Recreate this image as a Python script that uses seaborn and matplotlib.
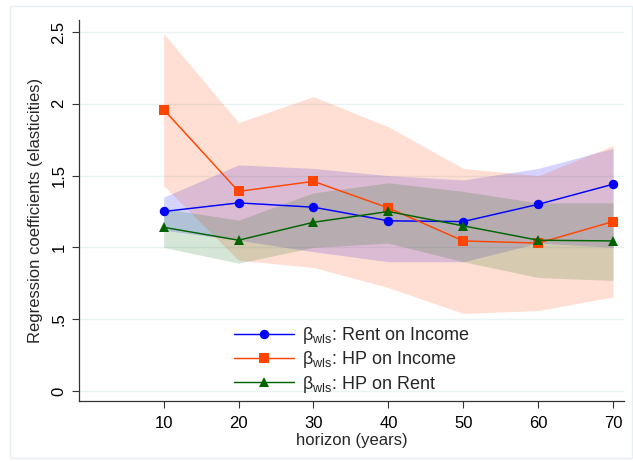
import numpy as np
import pandas as pd
import matplotlib
matplotlib.use("Agg")
import matplotlib.pyplot as plt
import seaborn as sns
from matplotlib.patches import Rectangle

# ---- data ----
horizon = [10, 20, 30, 40, 50, 60, 70]

rent_inc = [1.25, 1.31, 1.28, 1.185, 1.18, 1.30, 1.44]
rent_inc_hi = [1.35, 1.575, 1.55, 1.50, 1.47, 1.55, 1.69]
rent_inc_lo = [1.12, 1.05, 0.97, 0.90, 0.90, 1.03, 1.00]

hp_inc = [1.96, 1.39, 1.46, 1.275, 1.045, 1.03, 1.18]
hp_inc_hi = [2.49, 1.87, 2.05, 1.84, 1.55, 1.50, 1.71]
hp_inc_lo = [1.43, 0.91, 0.86, 0.72, 0.54, 0.56, 0.655]

hp_rent = [1.14, 1.05, 1.175, 1.25, 1.15, 1.05, 1.045]
hp_rent_hi = [1.27, 1.19, 1.38, 1.45, 1.39, 1.31, 1.31]
hp_rent_lo = [1.00, 0.89, 1.00, 1.03, 0.90, 0.79, 0.77]

labels = [r"β$_{\mathrm{wls}}$: Rent on Income",
          r"β$_{\mathrm{wls}}$: HP on Income",
          r"β$_{\mathrm{wls}}$: HP on Rent"]
yticks = [0, 0.5, 1, 1.5, 2, 2.5]
yticklabels = ["0", ".5", "1", "1.5", "2", "2.5"]
xticks = [10, 20, 30, 40, 50, 60, 70]

colors = ["#0000FF", "#FF4500", "#006400"]
markers = ["o", "s", "^"]

# ---- style ----
sns.set_style("white")
plt.rcParams["font.family"] = ["Liberation Sans", "DejaVu Sans"]
plt.rcParams["mathtext.fontset"] = "custom"
plt.rcParams["mathtext.rm"] = "Liberation Sans"
plt.rcParams["mathtext.it"] = "Liberation Sans:italic"

fig = plt.figure(figsize=(6.33, 4.61), dpi=100)
ax = fig.add_axes([79 / 633, 1 - 401 / 461, (624 - 79) / 633, (401 - 20) / 461])

# bands
bands = [(rent_inc_lo, rent_inc_hi), (hp_inc_lo, hp_inc_hi), (hp_rent_lo, hp_rent_hi)]
band_alpha = [0.17, 0.17, 0.16]
for (lo, hi), c, a in zip(bands, colors, band_alpha):
    ax.fill_between(horizon, lo, hi, color=c, alpha=a, linewidth=0, zorder=1)

# lines
df = pd.concat([
    pd.DataFrame({"horizon": horizon, "value": vals, "series": lab})
    for vals, lab in zip([rent_inc, hp_inc, hp_rent], labels)
])
sns.lineplot(data=df, x="horizon", y="value", hue="series", style="series",
             hue_order=labels, style_order=labels,
             palette=dict(zip(labels, colors)),
             markers=dict(zip(labels, markers)), dashes=False,
             markersize=6.8, markeredgewidth=0, linewidth=1.05, ax=ax, zorder=3)

# axes
ax.set_xlim(-1.3, 71.45)
ax.set_ylim(-(401 - 391) / 143.6, (391 - 20) / 143.6)
ax.set_xticks(xticks)
ax.set_yticks(yticks)
ax.set_yticklabels(yticklabels, rotation=90, va="center")
ax.tick_params(axis="both", direction="out", length=5, width=0.8, colors="#333333",
               labelcolor="black", labelsize=12, left=True, bottom=True, pad=4)
ax.tick_params(axis="x", pad=6)
ax.yaxis.grid(True, color="#EAF2F3", linewidth=1.0, zorder=0)
ax.xaxis.grid(False)
for s in ["top", "right"]:
    ax.spines[s].set_visible(False)
for s in ["left", "bottom"]:
    ax.spines[s].set_color("#333333")
    ax.spines[s].set_linewidth(0.9)
ax.set_xlabel("horizon (years)", fontsize=12, labelpad=1)
ax.set_ylabel("Regression coefficients (elasticities)", fontsize=12, labelpad=6)

leg = ax.legend(loc="upper left", bbox_to_anchor=(234 / 633, 1 - 325 / 461),
                bbox_transform=fig.transFigure, frameon=False, fontsize=13,
                handlelength=3.3, handletextpad=0.45, labelspacing=0.18,
                borderpad=0, borderaxespad=0, markerscale=1.0)

# outer light border (graph region)
fig.patches.append(Rectangle((10 / 633, 1 - 458 / 461), (632 - 10) / 633, (458 - 6) / 461,
                             transform=fig.transFigure, fill=False,
                             edgecolor="#E6EFF1", linewidth=1.0))

fig.savefig("out.png", dpi=100, facecolor="white")
